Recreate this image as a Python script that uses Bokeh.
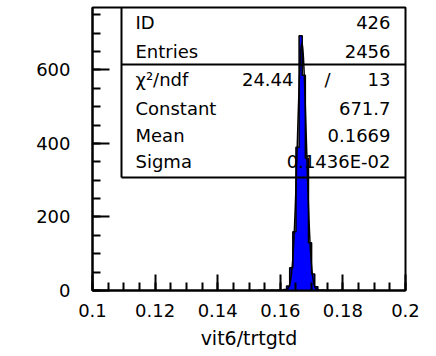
import numpy as np
from bokeh.plotting import figure
from bokeh.models import Range1d, FixedTicker
from bokeh.core.properties import value
from bokeh.embed import file_html
from bokeh.resources import INLINE

# Histogram of vit6/trtgtd: 1 ms-wide bins, lower edge and content
bin_width = 0.001
bin_lo = [0.153, 0.157, 0.159, 0.161, 0.162, 0.163, 0.164, 0.165, 0.166,
          0.167, 0.168, 0.169, 0.170, 0.171, 0.173, 0.179]
counts = [1, 1, 1, 3, 12, 62, 160, 390, 693, 586, 360, 130, 45, 10, 1, 1]

# Gaussian fit results
hist_id = 426
entries = 2456
chi2, ndf = 24.44, 13
fit_constant = 671.7
fit_mean = 0.1669
fit_sigma = 0.1436e-02

x_ticks = [0.1, 0.12, 0.14, 0.16, 0.18, 0.2]
x_tick_labels = ["0.1", "0.12", "0.14", "0.16", "0.18", "0.2"]
y_ticks = [0, 200, 400, 600]

X0, X1 = 0.1, 0.2
Y0, Y1 = 0, 770

p = figure(width=436, height=356, output_backend="svg", toolbar_location=None,
           x_range=Range1d(X0, X1), y_range=Range1d(Y0, Y1),
           min_border_left=92, min_border_right=31, min_border_top=7,
           min_border_bottom=66)
p.grid.visible = False
p.background_fill_color = "white"
p.border_fill_color = "white"
p.outline_line_color = "black"
p.outline_line_width = 2

# frame-pixel helpers for the statistics box (frame is 313 x 283 px)
FL, FR, FT, FB = 92, 405, 7, 290
def fx(px):
    return X0 + (px - FL) / (FR - FL) * (X1 - X0)
def fy(py):
    return Y0 + (FB - py) / (FB - FT) * (Y1 - Y0)

# step contour of the histogram (bins indexed from X0)
idx = {int(round((b - X0) / bin_width)): c for b, c in zip(bin_lo, counts)}
i0, i1 = min(idx), max(idx)
sx, sy = [X0 + i0 * bin_width], [0]
for i in range(i0, i1 + 1):
    c = idx.get(i, 0)
    sx += [X0 + i * bin_width, X0 + (i + 1) * bin_width]
    sy += [c, c]
sx.append(X0 + (i1 + 1) * bin_width)
sy.append(0)

# filled histogram as one polygon, then its black contour
p.patch(sx, sy, fill_color="#0000ff", line_color=None)
p.line(sx, sy, line_color="black", line_width=1.5)

# fitted gaussian
xf = np.linspace(fit_mean - 5 * fit_sigma, fit_mean + 5 * fit_sigma, 300)
yf = fit_constant * np.exp(-0.5 * ((xf - fit_mean) / fit_sigma) ** 2)
p.line(xf, yf, line_color="black", line_width=1.5)

# axes
xa = p.xaxis[0]
xa.ticker = FixedTicker(ticks=x_ticks,
                        minor_ticks=[round(0.1 + 0.005 * i, 3) for i in range(21)])
xa.major_label_overrides = {t: l for t, l in zip(x_ticks, x_tick_labels)}
xa.axis_label = "vit6/trtgtd"
ya = p.yaxis[0]
ya.ticker = FixedTicker(ticks=y_ticks, minor_ticks=list(range(0, 751, 50)))
for ax in (xa, ya):
    ax.axis_line_color = "black"
    ax.axis_line_width = 2
    ax.major_tick_line_color = "black"
    ax.minor_tick_line_color = "black"
    ax.major_tick_line_width = 2
    ax.minor_tick_line_width = 2
    ax.major_tick_out = 0
    ax.minor_tick_out = 0
    ax.minor_tick_in = 8
    ax.major_label_text_font = "DejaVu Sans"
    ax.major_label_text_font_size = "18px"
    ax.major_label_text_color = "black"
xa.major_tick_in = 16
ya.major_tick_in = 17
xa.major_label_standoff = 13
ya.major_label_standoff = 22
xa.axis_label_text_font = "DejaVu Sans"
xa.axis_label_text_font_size = "19px"
xa.axis_label_text_font_style = "normal"
xa.axis_label_text_color = "black"
xa.axis_label_standoff = 7

# statistics box
p.segment(x0=[fx(121), fx(121), fx(121)], y0=[fy(FT), fy(177), fy(64)],
          x1=[fx(121), fx(FR), fx(FR)], y1=[fy(177), fy(177), fy(64)],
          line_color="black", line_width=2)

names = ["ID", "Entries", "χ²/ndf", "Constant", "Mean", "Sigma"]
vals = [str(hist_id), str(entries), str(ndf), f"{fit_constant:.1f}",
        f"{fit_mean:.4f}", "0.1436E-02"]
base = [21.5, 51, 78.5, 107.5, 135, 160.5]
font = dict(text_font_size="18px", text_color="black", text_baseline="alphabetic",
            text_font=value("DejaVu Sans"))
p.text(x=[fx(135)] * 6, y=[fy(b) for b in base], text=names,
       text_align="left", **font)
p.text(x=[fx(390)] * 6, y=[fy(b) for b in base], text=vals,
       text_align="right", **font)
p.text(x=[fx(293)], y=[fy(base[2])], text=[f"{chi2:.2f}"], text_align="right",
       **font)
p.text(x=[fx(327)], y=[fy(base[2])], text=["/"], text_align="center", **font)

open("out.html", "w").write(file_html(p, INLINE))
